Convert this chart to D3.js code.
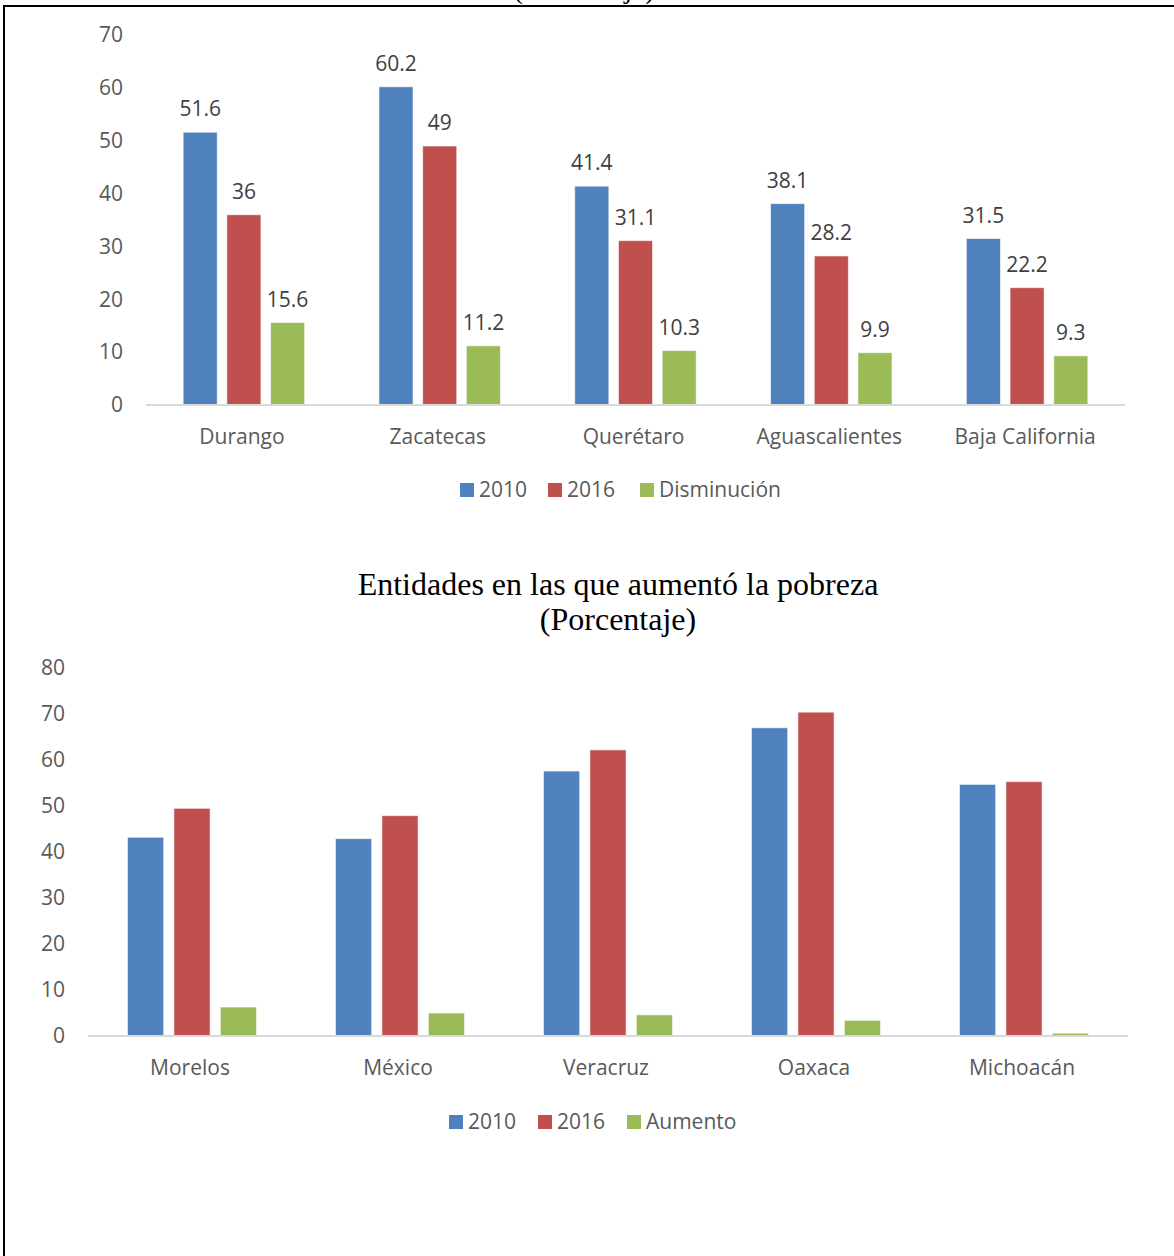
<!DOCTYPE html>
<html><head><meta charset="utf-8">
<script src="https://cdn.jsdelivr.net/npm/d3@7/dist/d3.min.js"></script>
<style>body{margin:0;background:#fff}svg{display:block}</style>
</head><body>
<svg id="c" width="1174" height="1256"></svg>
<script>
// Chart 1: entidades en las que disminuyó la pobreza
const cats1 = ["Durango","Zacatecas","Querétaro","Aguascalientes","Baja California"];
const s1_2010 = [51.6,60.2,41.4,38.1,31.5];
const s1_2016 = [36,49,31.1,28.2,22.2];
const s1_dis  = [15.6,11.2,10.3,9.9,9.3];
const ticks1 = [0,10,20,30,40,50,60,70];
const series1 = ["2010","2016","Disminución"];

// Chart 2: entidades en las que aumentó la pobreza
const cats2 = ["Morelos","México","Veracruz","Oaxaca","Michoacán"];
const s2_2010 = [43.2,42.9,57.6,67.0,54.7];
const s2_2016 = [49.5,47.9,62.2,70.4,55.3];
const s2_aum  = [6.3,5.0,4.6,3.4,0.6];
const ticks2 = [0,10,20,30,40,50,60,70,80];
const series2 = ["2010","2016","Aumento"];

const title2 = ["Entidades en las que aumentó la pobreza","(Porcentaje)"];
const title1cut = "(Porcentaje)";

const colors = ["#4F81BD","#C0504D","#9BBB59"];
const FONT = "'Open Sans', 'Noto Sans', sans-serif";
const SERIF = "'Liberation Serif','Times New Roman',serif";

const svg = d3.select("#c");

// frame
svg.append("path").attr("d","M4,1256 L4,6 L1174,6")
  .attr("fill","none").attr("stroke","#000").attr("stroke-width",2);

// title of the upper chart, cut off by the top edge as in the source
svg.append("text").attr("x",584).attr("y",-2).attr("text-anchor","middle")
  .attr("font-family",SERIF).attr("font-size",29)
  .attr("fill","#000").text(title1cut);

function drawChart(cfg){
  const g = svg.append("g");
  const x = d3.scaleBand().domain(cfg.cats).range([cfg.x0,cfg.x1]).padding(0);
  const inner = d3.scaleBand().domain(cfg.series).range([0,x.bandwidth()])
    .paddingInner(0.22).paddingOuter(0.85);
  const y = d3.scaleLinear().domain([0,cfg.ymax]).range([cfg.yBase,cfg.yTop]);

  // y axis
  const ya = g.append("g").attr("transform",`translate(${cfg.x0},0)`)
    .call(d3.axisLeft(y).tickValues(cfg.ticks).tickSize(0).tickPadding(23).tickFormat(d3.format("d")));
  ya.select(".domain").remove();
  ya.selectAll("text").attr("font-family",FONT).attr("font-size",21).attr("fill","#595959");

  // bars
  const rows = cfg.cats.map((c,i)=>cfg.series.map((s,j)=>({c,s,j,v:cfg.values[j][i]}))).flat();
  g.selectAll("rect.bar").data(rows).enter().append("rect").attr("class","bar")
    .attr("x",d=>x(d.c)+inner(d.s)).attr("width",inner.bandwidth())
    .attr("y",d=>y(d.v)).attr("height",d=>y(0)-y(d.v))
    .attr("fill",d=>colors[d.j]).attr("stroke","#ffffff").attr("stroke-opacity",0.6).attr("stroke-width",1);

  // baseline
  g.append("line").attr("x1",cfg.x0).attr("x2",cfg.x1).attr("y1",y(0)).attr("y2",y(0))
    .attr("stroke","#D9D9D9").attr("stroke-width",2);

  // x axis labels
  const xa = g.append("g").attr("transform",`translate(0,${y(0)})`)
    .call(d3.axisBottom(x).tickSize(0).tickPadding(24));
  xa.select(".domain").remove();
  xa.selectAll("text").attr("font-family",FONT).attr("font-size",21).attr("fill","#595959")
    .attr("dx",-2);

  // data labels
  if(cfg.labels){
    g.selectAll("text.lbl").data(rows).enter().append("text").attr("class","lbl")
      .attr("x",d=>x(d.c)+inner(d.s)+inner.bandwidth()/2).attr("y",d=>y(d.v)-16)
      .attr("text-anchor","middle").attr("font-family",FONT).attr("font-size",21)
      .attr("fill","#404040").text(d=>d.v);
  }

  // legend
  const lg = g.append("g");
  cfg.series.forEach((s,j)=>{
    const lx = cfg.legX[j];
    lg.append("rect").attr("x",lx).attr("y",cfg.legY-14).attr("width",14).attr("height",14).attr("fill",colors[j]);
    lg.append("text").attr("x",lx+19).attr("y",cfg.legY).attr("font-family",FONT).attr("font-size",21)
      .attr("fill","#595959").text(s);
  });

  // title
  if(cfg.title){
    cfg.title.forEach((t,i)=>{
      svg.append("text").attr("x",cfg.titleX).attr("y",cfg.titleY+i*35).attr("text-anchor","middle")
        .attr("font-family",SERIF).attr("font-size",32)
        .attr("fill","#000").text(t);
    });
  }
}

drawChart({cats:cats1,series:series1,values:[s1_2010,s1_2016,s1_dis],ticks:ticks1,ymax:70,
  x0:146,x1:1125,yBase:405,yTop:35,labels:true,legX:[460,548,640],legY:497});

drawChart({cats:cats2,series:series2,values:[s2_2010,s2_2016,s2_aum],ticks:ticks2,ymax:80,
  x0:88,x1:1128,yBase:1036,yTop:668,labels:false,legX:[449,538,627],legY:1129,
  title:title2,titleX:618,titleY:595});
</script>
</body></html>
